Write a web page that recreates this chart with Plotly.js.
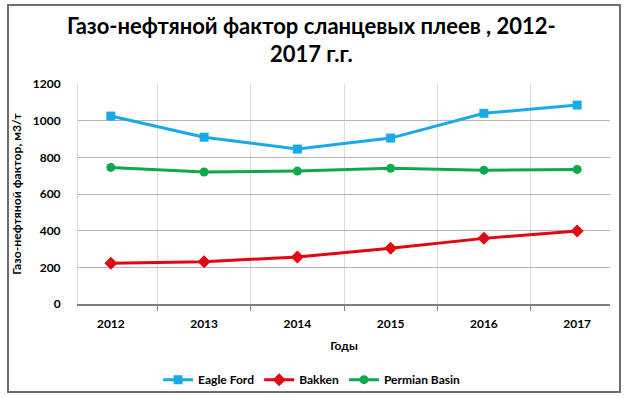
<!DOCTYPE html>
<html>
<head>
<meta charset="utf-8">
<script src="https://cdn.plot.ly/plotly-3.0.1.min.js"></script>
<style>
  html, body { margin: 0; padding: 0; background: #ffffff; }
  #wrap { position: relative; width: 624px; height: 398px; background: #ffffff; }
  #chart { position: absolute; left: 0; top: 0; width: 624px; height: 398px; }
  #frame { position: absolute; left: 7px; top: 4px; width: 610px; height: 385px;
           border: 2px solid #6e6e6e; pointer-events: none; }
</style>
</head>
<body>
<div id="wrap">
  <div id="chart"></div>
  <div id="frame"></div>
</div>
<script>
const years = ['2012', '2013', '2014', '2015', '2016', '2017'];
const eagleFord = [1025, 910, 845, 905, 1040, 1085];
const bakken = [222, 231, 256, 304, 358, 398];
const permianBasin = [745, 720, 725, 740, 730, 734];

const seriesNames = ['Eagle Ford', 'Bakken', 'Permian Basin'];
const titleText = 'Газо-нефтяной фактор сланцевых плеев , 2012-<br>2017 г.г.';
const xTitle = 'Годы';
const yTitle = 'Газо-нефтяной фактор, м3/т';

const FONT = 'Lato, "Open Sans", sans-serif';

const traces = [
  { x: years, y: eagleFord, name: '<b>' + seriesNames[0] + '</b>', type: 'scatter', mode: 'lines+markers',
    line: { color: '#1aa9e8', width: 3 },
    marker: { symbol: 'square', size: 9, color: '#1aa9e8' } },
  { x: years, y: bakken, name: '<b>' + seriesNames[1] + '</b>', type: 'scatter', mode: 'lines+markers',
    line: { color: '#e30613', width: 3 },
    marker: { symbol: 'diamond', size: 10, color: '#e30613' } },
  { x: years, y: permianBasin, name: '<b>' + seriesNames[2] + '</b>', type: 'scatter', mode: 'lines+markers',
    line: { color: '#10a84f', width: 3 },
    marker: { symbol: 'circle', size: 9, color: '#10a84f' } }
];

const layout = {
  width: 624, height: 398,
  paper_bgcolor: '#ffffff',
  plot_bgcolor: '#ffffff',
  margin: { l: 78, r: 14, t: 84, b: 94 },
  font: { family: FONT, color: '#000000' },
  title: {
    text: '<b>' + titleText + '</b>',
    font: { family: FONT, size: 22, color: '#000000' },
    x: 0.499, xanchor: 'center',
    y: 0.915, yanchor: 'top'
  },
  xaxis: {
    type: 'category',
    tickson: 'boundaries',
    ticks: 'outside', ticklen: 5, tickcolor: '#7f7f7f', tickwidth: 1,
    ticklabelstandoff: 8,
    showgrid: true, gridcolor: '#dcdcdc', gridwidth: 1,
    showline: true, linecolor: '#7f7f7f', linewidth: 1.5,
    tickfont: { family: FONT, size: 12, color: '#000000', weight: 'bold' },
    title: { text: '<b>' + xTitle + '</b>', font: { family: FONT, size: 12, color: '#000000' }, standoff: 11 },
    automargin: false,
    fixedrange: true
  },
  yaxis: {
    range: [0, 1200], dtick: 200,
    ticks: '', ticklabelstandoff: 14,
    showgrid: true, gridcolor: '#b5b5b5', gridwidth: 1,
    showline: true, linecolor: '#d9d9d9', linewidth: 1,
    zeroline: false,
    tickfont: { family: FONT, size: 12, color: '#000000', weight: 'bold' },
    title: { text: '<b>' + yTitle + '</b>', font: { family: FONT, size: 12.2, color: '#000000' }, standoff: 8 },
    automargin: false,
    fixedrange: true
  },
  showlegend: true,
  legend: {
    orientation: 'h',
    xref: 'paper', x: 0.44, xanchor: 'center',
    yref: 'container', y: 0.046, yanchor: 'middle',
    font: { family: FONT, size: 12, color: '#000000', weight: 'bold' },
    itemwidth: 30,
    tracegroupgap: 0
  }
};

Plotly.newPlot('chart', traces, layout, { displayModeBar: false, staticPlot: true });
</script>
</body>
</html>
